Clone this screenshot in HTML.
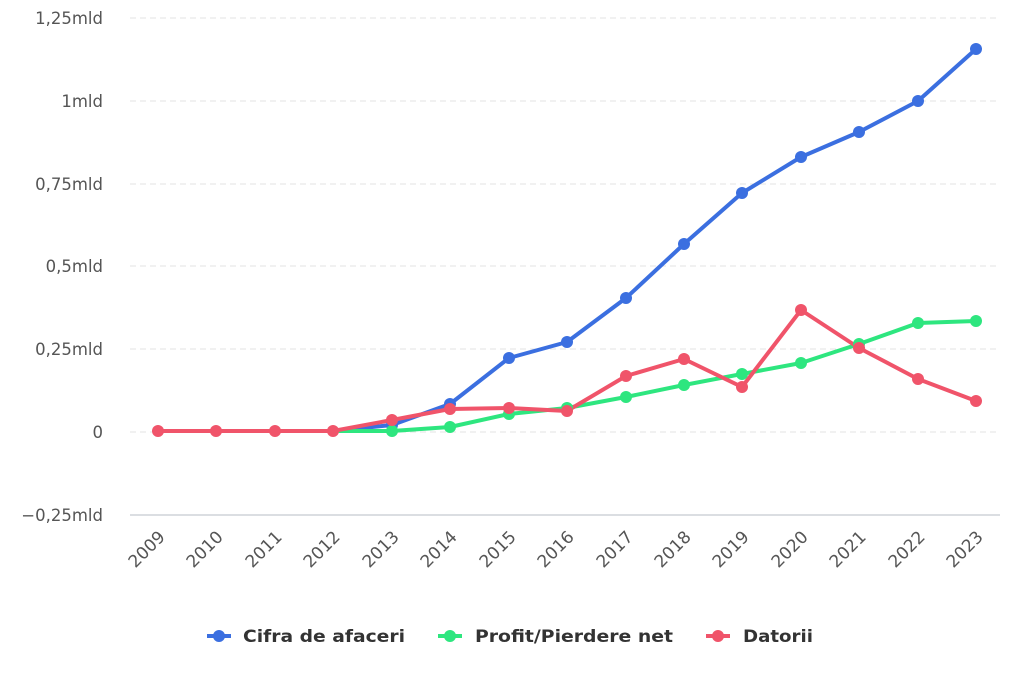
<!DOCTYPE html>
<html><head><meta charset="utf-8"><style>
body{margin:0;background:#fff}
svg text{font-family:"DejaVu Sans",sans-serif}
</style></head><body>
<svg width="1024" height="683" viewBox="0 0 1024 683" xmlns="http://www.w3.org/2000/svg">
<g stroke="#e3e3e3" stroke-width="1" stroke-dasharray="6,4">
<line x1="130" x2="1000" y1="18" y2="18"/><line x1="130" x2="1000" y1="101" y2="101"/>
<line x1="130" x2="1000" y1="184" y2="184"/><line x1="130" x2="1000" y1="266" y2="266"/>
<line x1="130" x2="1000" y1="349" y2="349"/><line x1="130" x2="1000" y1="432" y2="432"/>
</g>
<line x1="130" x2="1000" y1="515" y2="515" stroke="#cfd3d8" stroke-width="1.5"/>
<g font-size="16.5" fill="#555" text-anchor="end">
<text x="103" y="24">1,25mld</text><text x="103" y="107">1mld</text>
<text x="103" y="190">0,75mld</text><text x="103" y="272">0,5mld</text>
<text x="103" y="355">0,25mld</text><text x="103" y="438">0</text>
<text x="103" y="521">−0,25mld</text>
</g>
<g font-size="17" fill="#555" text-anchor="end">
<text transform="translate(166,538) rotate(-45)">2009</text>
<text transform="translate(224,538) rotate(-45)">2010</text>
<text transform="translate(283,538) rotate(-45)">2011</text>
<text transform="translate(341,538) rotate(-45)">2012</text>
<text transform="translate(400,538) rotate(-45)">2013</text>
<text transform="translate(458,538) rotate(-45)">2014</text>
<text transform="translate(517,538) rotate(-45)">2015</text>
<text transform="translate(575,538) rotate(-45)">2016</text>
<text transform="translate(634,538) rotate(-45)">2017</text>
<text transform="translate(692,538) rotate(-45)">2018</text>
<text transform="translate(750,538) rotate(-45)">2019</text>
<text transform="translate(809,538) rotate(-45)">2020</text>
<text transform="translate(867,538) rotate(-45)">2021</text>
<text transform="translate(926,538) rotate(-45)">2022</text>
<text transform="translate(984,538) rotate(-45)">2023</text>
</g>
<g fill="none" stroke-width="4" stroke-linejoin="round">
<polyline stroke="#3b6fe0" points="158,431 216,431 275,431 333,431 392,425 450,404 509,358 567,342 626,298 684,244 742,193 801,157 859,132 918,101 976,49"/>
<polyline stroke="#2ee67f" points="158,431 216,431 275,431 333,431 392,431 450,427 509,414 567,408 626,397 684,385 742,374 801,363 859,344 918,323 976,321"/>
<polyline stroke="#f0546a" points="158,431 216,431 275,431 333,431 392,420 450,409 509,408 567,411 626,376 684,359 742,387 801,310 859,348 918,379 976,401"/>
</g>
<g fill="#3b6fe0"><circle cx="392" cy="425" r="6"/><circle cx="450" cy="404" r="6"/><circle cx="509" cy="358" r="6"/><circle cx="567" cy="342" r="6"/><circle cx="626" cy="298" r="6"/><circle cx="684" cy="244" r="6"/><circle cx="742" cy="193" r="6"/><circle cx="801" cy="157" r="6"/><circle cx="859" cy="132" r="6"/><circle cx="918" cy="101" r="6"/><circle cx="976" cy="49" r="6"/></g>
<g fill="#2ee67f"><circle cx="392" cy="431" r="6"/><circle cx="450" cy="427" r="6"/><circle cx="509" cy="414" r="6"/><circle cx="567" cy="408" r="6"/><circle cx="626" cy="397" r="6"/><circle cx="684" cy="385" r="6"/><circle cx="742" cy="374" r="6"/><circle cx="801" cy="363" r="6"/><circle cx="859" cy="344" r="6"/><circle cx="918" cy="323" r="6"/><circle cx="976" cy="321" r="6"/></g>
<g fill="#f0546a"><circle cx="158" cy="431" r="6"/><circle cx="216" cy="431" r="6"/><circle cx="275" cy="431" r="6"/><circle cx="333" cy="431" r="6"/><circle cx="392" cy="420" r="6"/><circle cx="450" cy="409" r="6"/><circle cx="509" cy="408" r="6"/><circle cx="567" cy="411" r="6"/><circle cx="626" cy="376" r="6"/><circle cx="684" cy="359" r="6"/><circle cx="742" cy="387" r="6"/><circle cx="801" cy="310" r="6"/><circle cx="859" cy="348" r="6"/><circle cx="918" cy="379" r="6"/><circle cx="976" cy="401" r="6"/></g>
<g font-size="17" font-weight="bold" fill="#333">
<line x1="207" x2="231" y1="636" y2="636" stroke="#3b6fe0" stroke-width="4"/><circle cx="219" cy="636" r="6" fill="#3b6fe0"/>
<text x="243" y="642" textLength="162" lengthAdjust="spacingAndGlyphs">Cifra de afaceri</text>
<line x1="438" x2="462" y1="636" y2="636" stroke="#2ee67f" stroke-width="4"/><circle cx="450" cy="636" r="6" fill="#2ee67f"/>
<text x="475" y="642" textLength="198" lengthAdjust="spacingAndGlyphs">Profit/Pierdere net</text>
<line x1="706" x2="730" y1="636" y2="636" stroke="#f0546a" stroke-width="4"/><circle cx="718" cy="636" r="6" fill="#f0546a"/>
<text x="743" y="642" textLength="70" lengthAdjust="spacingAndGlyphs">Datorii</text>
</g>
</svg>
</body></html>
